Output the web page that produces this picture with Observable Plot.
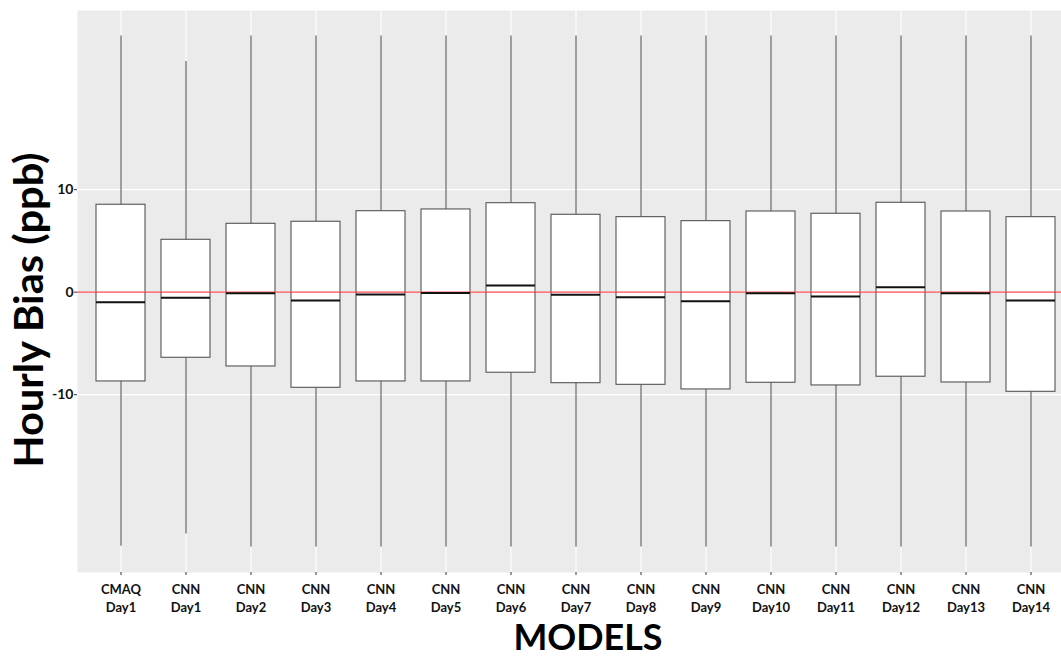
<!DOCTYPE html>
<html>
<head>
<meta charset="utf-8">
<script src="https://cdn.jsdelivr.net/npm/d3@7"></script>
<script src="https://cdn.jsdelivr.net/npm/@observablehq/plot@0.6"></script>
<style>
  html, body { margin: 0; padding: 0; background: #fff; }
  #chart svg { display: block; font-family: Lato, "Open Sans", sans-serif; }
</style>
</head>
<body>
<div id="chart"></div>
<script>
const models = ["CMAQ Day1", "CNN Day1", "CNN Day2", "CNN Day3", "CNN Day4", "CNN Day5", "CNN Day6", "CNN Day7",
                "CNN Day8", "CNN Day9", "CNN Day10", "CNN Day11", "CNN Day12", "CNN Day13", "CNN Day14"];
const whiskerHigh = [25.0, 22.5, 25.0, 25.0, 25.0, 25.0, 25.0, 25.0, 25.0, 25.0, 25.0, 25.0, 25.0, 25.0, 25.0];
const upperQuartile = [8.53, 5.11, 6.67, 6.87, 7.90, 8.07, 8.68, 7.55, 7.32, 6.93, 7.87, 7.65, 8.72, 7.87, 7.32];
const medians = [-0.98, -0.55, -0.10, -0.81, -0.22, -0.08, 0.65, -0.26, -0.49, -0.88, -0.10, -0.42, 0.49, -0.10, -0.81];
const lowerQuartile = [-8.71, -6.40, -7.25, -9.33, -8.71, -8.71, -7.86, -8.88, -9.04, -9.49, -8.84, -9.10, -8.25, -8.81, -9.72];
const whiskerLow = [-24.8, -23.6, -24.85, -24.85, -24.85, -24.85, -24.85, -24.85, -24.85, -24.85, -24.85, -24.85, -24.85, -24.85, -24.85];
const yTicks = [-10, 0, 10];

const data = models.map((m, i) => ({
  model: m, hi: whiskerHigh[i], q3: upperQuartile[i], med: medians[i], q1: lowerQuartile[i], lo: whiskerLow[i]
}));

const font = "Lato, 'Open Sans', sans-serif";

const chart = Plot.plot({
  width: 1061,
  height: 660,
  marginLeft: 77,
  marginRight: 0,
  marginTop: 10,
  marginBottom: 88,
  style: { fontFamily: font, background: "white" },
  x: { type: "band", domain: models, range: [92.15, 1057.8], paddingInner: 0.25, paddingOuter: 0 },
  y: { domain: [-27.35, 27.48] },
  marks: [
    Plot.frame({ fill: "#EBEBEB", stroke: "none" }),
    Plot.gridY(yTicks, { stroke: "white", strokeOpacity: 1, strokeWidth: 1.1 }),
    Plot.gridX({ stroke: "white", strokeOpacity: 1, strokeWidth: 1.1 }),
    Plot.ruleX(data, { x: "model", y1: "lo", y2: "hi", stroke: "#555", strokeWidth: 1.1 }),
    Plot.barY(data, { x: "model", y1: "q1", y2: "q3", fill: "white", stroke: "#555", strokeWidth: 1.1 }),
    Plot.ruleY([0], { stroke: "#ff3030", strokeOpacity: 0.85, strokeWidth: 1.4 }),
    Plot.tickY(data, { x: "model", y: "med", stroke: "#111", strokeWidth: 2 }),
    Plot.axisY(yTicks, {
      tickSize: 3, tickPadding: 1, stroke: "#333", fontSize: 14, fontWeight: "bold",
      color: "#111", label: null, tickFormat: d => String(d)
    }),
    Plot.axisX({
      tickSize: 3, tickPadding: 6, stroke: "#333", fontSize: 13, fontWeight: "bold",
      color: "#111", label: null, lineHeight: 1.35, tickFormat: d => d.replace(" ", "\n")
    }),
    Plot.text(["Hourly Bias (ppb)"], {
      frameAnchor: "left", dx: -35, dy: 18.5, rotate: -90, fontSize: 40, fontWeight: "bold",
      textAnchor: "middle", lineAnchor: "bottom", fill: "black", className: "ylab"
    }),
    Plot.text(["MODELS"], {
      frameAnchor: "bottom", dx: 18.5, dy: 77, fontSize: 37, fontWeight: "bold",
      textAnchor: "middle", lineAnchor: "bottom", fill: "black", className: "xlab"
    })
  ]
});

document.getElementById("chart").appendChild(chart);

d3.select(chart).selectAll(".ylab text").attr("textLength", 315).attr("lengthAdjust", "spacingAndGlyphs");
d3.select(chart).selectAll(".xlab text").attr("textLength", 149).attr("lengthAdjust", "spacingAndGlyphs");
</script>
</body>
</html>
